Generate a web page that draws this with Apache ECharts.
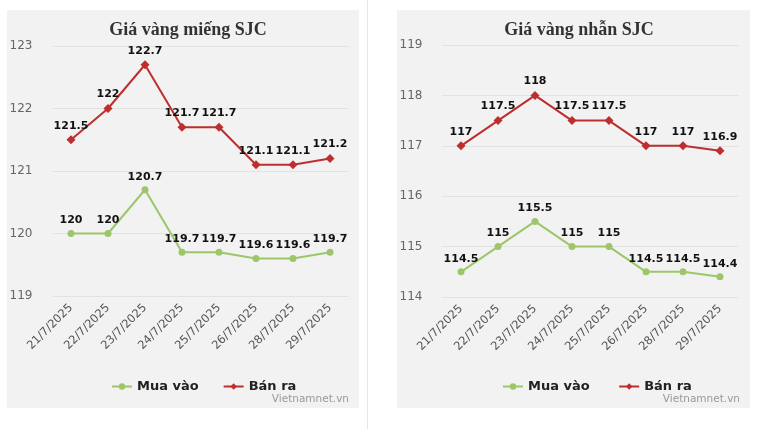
<!DOCTYPE html><html><head><meta charset="utf-8"><script src="https://cdn.jsdelivr.net/npm/echarts@6/dist/echarts.min.js"></script>
<style>html,body{margin:0;padding:0;background:#fff}#c{width:757px;height:429px}</style></head><body><div id="c"></div><script>
const dates=['21/7/2025','22/7/2025','23/7/2025','24/7/2025','25/7/2025','26/7/2025','28/7/2025','29/7/2025'];
const barBuy=[120,120,120.7,119.7,119.7,119.6,119.6,119.7];
const barSell=[121.5,122,122.7,121.7,121.7,121.1,121.1,121.2];
const ringBuy=[114.5,115,115.5,115,115,114.5,114.5,114.4];
const ringSell=[117,117.5,118,117.5,117.5,117,117,116.9];
const green='#9dc66b', red='#bf2e2e';
const lbl={show:true,position:'top',fontWeight:'bold',color:'#111',fontSize:11,fontFamily:'DejaVu Sans',distance:4};
function ser(name,data,color,i,sym){return {name,type:'line',data,xAxisIndex:i,yAxisIndex:i,symbol:sym,symbolSize:sym==='diamond'?9:7,itemStyle:{color},lineStyle:{color,width:2},label:lbl,animation:false};}
const xa=i=>({type:'category',gridIndex:i,data:dates,axisLine:{show:false},axisTick:{show:false},axisLabel:{rotate:45,color:'#555',fontSize:11.5,fontFamily:'DejaVu Sans',interval:0,margin:10}});
const ya=(i,min,max)=>({type:'value',gridIndex:i,min,max,interval:1,axisLabel:{color:'#666',fontSize:12,fontFamily:'DejaVu Sans',margin:20},splitLine:{lineStyle:{color:'#e2e2e2'}}});
const c=echarts.init(document.getElementById('c'));
c.setOption({
graphic:[
{type:'rect',shape:{x:7,y:10,width:352,height:398},style:{fill:'#f2f2f2'},z:-10},
{type:'rect',shape:{x:397,y:10,width:353,height:398},style:{fill:'#f2f2f2'},z:-10},
{type:'rect',shape:{x:367,y:0,width:1,height:429},style:{fill:'#e6e6e6'},z:-10},
{type:'text',right:757-349,top:394,style:{text:'Vietnamnet.vn',fill:'#999',fontSize:10.5,fontFamily:'DejaVu Sans'}},
{type:'text',right:757-740,top:394,style:{text:'Vietnamnet.vn',fill:'#999',fontSize:10.5,fontFamily:'DejaVu Sans'}}
],
title:[
{text:'Giá vàng miếng SJC',left:183,top:16,textAlign:'center',textStyle:{fontFamily:'Liberation Serif',fontWeight:'bold',fontSize:18,color:'#333'}},
{text:'Giá vàng nhẫn SJC',left:574,top:16,textAlign:'center',textStyle:{fontFamily:'Liberation Serif',fontWeight:'bold',fontSize:18,color:'#333'}}
],
legend:[
{left:106,top:375,itemGap:24,itemWidth:20,itemHeight:8,data:['Mua vào','Bán ra'],textStyle:{fontWeight:'bold',fontSize:13,color:'#222',fontFamily:'DejaVu Sans'}},
{left:497,top:375,itemGap:24,itemWidth:20,itemHeight:8,data:['Mua vào ','Bán ra '],textStyle:{fontWeight:'bold',fontSize:13,color:'#222',fontFamily:'DejaVu Sans'}}
],
grid:[{left:52.5,width:296,top:46,height:250},{left:442.5,width:296,top:45,height:252}],
xAxis:[xa(0),xa(1)],
yAxis:[ya(0,119,123),ya(1,114,119)],
series:[ser('Mua vào',barBuy,green,0,'circle'),ser('Bán ra',barSell,red,0,'diamond'),ser('Mua vào ',ringBuy,green,1,'circle'),ser('Bán ra ',ringSell,red,1,'diamond')]
});
</script></body></html>
